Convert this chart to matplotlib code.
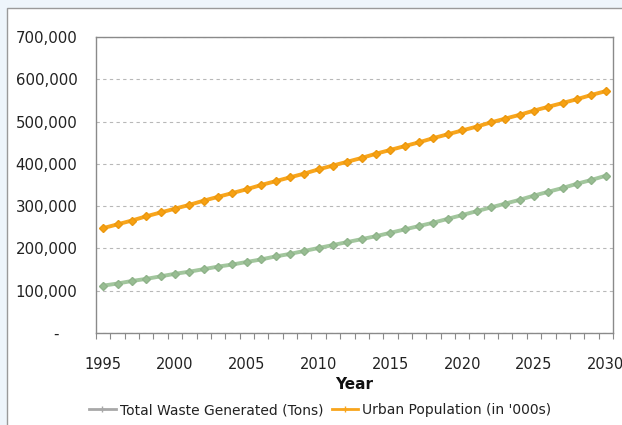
import matplotlib
matplotlib.use("Agg")
import matplotlib.pyplot as plt
from matplotlib.patches import Rectangle
from matplotlib.lines import Line2D
from matplotlib.ticker import FuncFormatter, MultipleLocator

years = list(range(1995, 2031))
waste_tons = [
    112000, 117000, 123000, 128000, 134000, 140000, 145000, 151000, 157000, 162000,
    168000, 174000, 181000, 187000, 194000, 201000, 208000, 215000, 222000, 229000,
    237000, 245000, 253000, 261000, 270000, 279000, 288000, 297000, 306000, 315000,
    325000, 334000, 343000, 353000, 362000, 372000,
]
urban_pop = [
    248000, 257000, 266000, 276000, 285000, 294000, 303000, 313000, 322000, 331000,
    340000, 350000, 359000, 368000, 377000, 387000, 396000, 405000, 414000, 424000,
    433000, 442000, 451000, 461000, 470000, 479000, 488000, 498000, 507000, 516000,
    526000, 535000, 544000, 553000, 563000, 572000,
]
label_years = [1995, 2000, 2005, 2010, 2015, 2020, 2025, 2030]

FONT = "DejaVu Sans"
plt.rcParams["font.family"] = [FONT]

fig = plt.figure(figsize=(6.22, 4.25), dpi=100)
fig.patch.set_facecolor("#eef5fb")

# white panel behind the chart
fig.patches.append(Rectangle((7 / 622, -0.05), 1.1, (425 - 8) / 425 + 0.05,
                             transform=fig.transFigure, facecolor="white",
                             edgecolor="#9a9a9a", linewidth=1.0, zorder=-5))

ax = fig.add_axes([96 / 622, (425 - 333) / 425, (613 - 96) / 622, (333 - 37) / 425])
ax.set_zorder(1)
ax.set_facecolor("white")

x = list(range(len(years)))
ax.plot(x, waste_tons, color="#a2c69d", lw=2.8, marker="D", ms=4.0,
        mfc="#98bd92", mec="#8fb38a", zorder=3)
ax.plot(x, urban_pop, color="#f8a51c", lw=2.8, marker="D", ms=4.0,
        mfc="#f7a112", mec="#eb980f", zorder=4)

ax.set_xlim(-0.5, len(years) - 0.5)
ax.set_ylim(0, 700000)
ax.yaxis.set_major_locator(MultipleLocator(100000))
ax.yaxis.set_major_formatter(FuncFormatter(lambda v, p: "-" if v == 0 else f"{int(v):,}"))
ax.grid(axis="y", color="#b8b8b8", linestyle=(0, (3, 3)), linewidth=0.8)
ax.set_axisbelow(True)

ax.set_xticks([years.index(y) for y in label_years])
ax.set_xticklabels([str(y) for y in label_years])
ax.set_xticks([i - 0.5 for i in range(len(years) + 1)], minor=True)
ax.tick_params(axis="x", which="major", length=0, pad=17, labelsize=10.5, colors="#222222")
ax.tick_params(axis="x", which="minor", length=4, width=0.8, color="#8a8a8a", direction="out")
ax.tick_params(axis="y", length=0, pad=13.5, labelsize=10.8, colors="#222222")
for lbl in ax.get_xticklabels():
    lbl.set_color("#222222")

# the zero label sits left of the column, as in accounting number format
fig.canvas.draw()
for lbl in ax.get_yticklabels():
    lbl.set_color("#222222")
    if lbl.get_text() == "-":
        lbl.set_x(-0.042)
        lbl.set_horizontalalignment("center")

for s in ax.spines.values():
    s.set_color("#8a8a8a")
    s.set_linewidth(1.0)

ax.set_xlabel("Year", fontsize=11, fontweight="bold", labelpad=4, color="#111111")

handles = [
    Line2D([], [], color="#a8a8a8", lw=2, marker="+", ms=5, mew=1),
    Line2D([], [], color="#f8a51c", lw=2, marker="+", ms=5, mew=1),
]
fig.legend(handles, ["Total Waste Generated (Tons)", "Urban Population (in '000s)"],
           loc="center", bbox_to_anchor=(0.515, 15 / 425), ncol=2,
           frameon=False, fontsize=10, handlelength=1.9, handletextpad=0.3,
           columnspacing=0.6, labelcolor="#222222")

fig.savefig("out.png", dpi=100, facecolor=fig.get_facecolor())
